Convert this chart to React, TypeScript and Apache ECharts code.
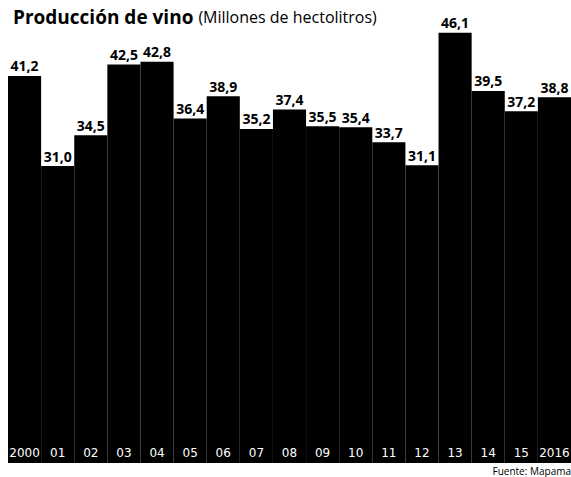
import React, { useEffect, useRef } from "react";
import * as echarts from "echarts";

const years = ["2000", "01", "02", "03", "04", "05", "06", "07", "08", "09", "10", "11", "12", "13", "14", "15", "2016"];
const production = [41.2, 31.0, 34.5, 42.5, 42.8, 36.4, 38.9, 35.2, 37.4, 35.5, 35.4, 33.7, 31.1, 46.1, 39.5, 37.2, 38.8];
// band below the zero line that holds the year labels (in value units)
const labelBand = years.map(() => 2.6);

export default function App() {
  const ref = useRef<HTMLDivElement>(null);
  useEffect(() => {
    const chart = echarts.init(ref.current!, null, { renderer: "svg" });
    chart.setOption({
      animation: false,
      backgroundColor: "#ffffff",
      title: {
        left: 8,
        top: 2,
        text: "{a|Producción de vino} {b|(Millones de hectolitros)}",
        textStyle: {
          rich: {
            a: { fontFamily: "Open Sans", fontWeight: "bold", fontSize: 19, color: "#000" },
            b: { fontFamily: "Open Sans", fontWeight: "normal", fontSize: 16, color: "#000" },
          },
        },
      },
      graphic: [
        {
          type: "text",
          right: 0,
          bottom: 1,
          style: { text: "Fuente: Mapama", fontFamily: "Open Sans", fontSize: 10, fill: "#000" },
        },
      ],
      grid: { left: 8, right: 0, top: 15, bottom: 14 },
      xAxis: {
        type: "category",
        data: years,
        axisLine: { show: false },
        axisTick: { show: false },
        axisLabel: { show: false },
      },
      yAxis: {
        type: "value",
        min: 0,
        max: 50.7,
        show: false,
        splitLine: { show: false },
      },
      series: [
        {
          type: "bar",
          stack: "s",
          data: labelBand,
          barCategoryGap: "0%",
          itemStyle: { color: "#000000" },
          label: {
            show: true,
            position: "insideBottom",
            distance: 4,
            color: "#ffffff",
            fontFamily: "DejaVu Sans",
            fontSize: 12,
            formatter: (p: any) => p.name,
          },
        },
        {
          type: "bar",
          stack: "s",
          data: production,
          barCategoryGap: "0%",
          itemStyle: { color: "#000000" },
          label: {
            show: true,
            position: "top",
            distance: 3,
            color: "#000",
            fontFamily: "Open Sans",
            fontWeight: "bold",
            fontSize: 14,
            formatter: (p: any) => Number(p.value).toFixed(1).replace(".", ","),
          },
        },
      ],
    });
    return () => chart.dispose();
  }, []);
  return <div ref={ref} style={{ width: 571, height: 477, position: "absolute", left: 0, top: 0 }} />;
}
